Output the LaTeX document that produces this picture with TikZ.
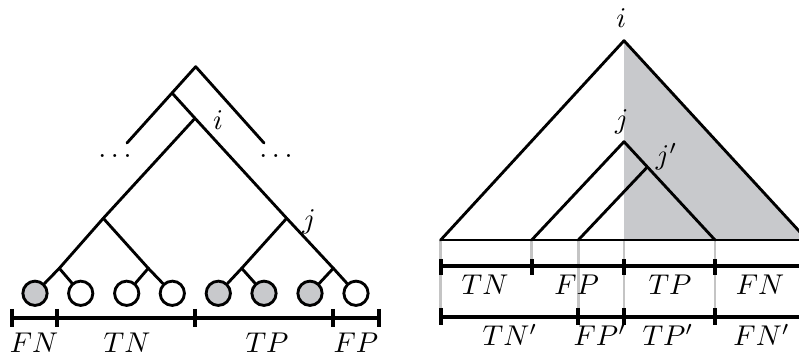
\documentclass[tikz,border=0pt]{standalone}
\usepackage{tikz}
\usepackage{xcolor}
\definecolor{regiongray}{RGB}{200,201,204}
\definecolor{guidegray}{RGB}{196,196,196}

\begin{document}
\begin{tikzpicture}[x=0.35pt, y=-0.35pt,
  tree/.style={line width=1pt, line cap=round, line join=round},
  leaf/.style={circle, draw=black, line width=1pt, inner sep=0pt, minimum size=8.5pt},
  bar/.style={line width=1.3pt},
  guide/.style={draw=guidegray, line width=1pt},
  every node/.style={font=\normalsize}]
\clip (0,0) rectangle (799,358);
% Left: tree with leaves
\coordinate (top) at (195.7,66.7);
\coordinate (a) at (172.3,93.3);
\coordinate (endL) at (127,143);
\coordinate (endR) at (264,143);
\coordinate (ni) at (195,118.3);
\coordinate (n1) at (103.3,218.3);
\coordinate (n2) at (59.3,268.3);
\coordinate (n3) at (148.3,268.3);
\coordinate (nj) at (286.7,218.3);
\coordinate (n4) at (241.7,268.3);
\coordinate (n5) at (333.3,268.3);
\foreach \x/\f [count=\k] in {35/regiongray,80.7/white,126.7/white,172.3/white,218.3/regiongray,264/regiongray,310/regiongray,356/white}
  \node[leaf, fill=\f] (leaf\k) at (\x,293.3) {};
\draw[tree] (endL) -- (top) -- (endR);
\draw[tree] (a) -- (ni) -- (nj) -- (n5) -- (leaf8);
\draw[tree] (ni) -- (n1) -- (n2) -- (leaf1);
\draw[tree] (n2) -- (leaf2);
\draw[tree] (n1) -- (n3) -- (leaf4);
\draw[tree] (n3) -- (leaf3);
\draw[tree] (nj) -- (n4) -- (leaf5);
\draw[tree] (n4) -- (leaf6);
\draw[tree] (n5) -- (leaf7);
\node (labi) at (218,120) {$i$};
\node (labj) at (309,222) {$j$};
\node[anchor=base] (dotsL) at (115,157.5) {$\ldots$};
\node[anchor=base] (dotsR) at (276,157.5) {$\ldots$};
% Left: leaf classes
\draw[bar] (12.3,318.3) -- (379,318.3);
\foreach \x in {12.3,57.3,195,333.3,379}
  \draw[bar] (\x,309) -- (\x,327);
\node (fnL) at (34,343) {$FN$};
\node (tnL) at (127,343) {$TN$};
\node (tpL) at (267,343) {$TP$};
\node (fpL) at (356,343) {$FP$};
% Right: nested subtrees
\coordinate (I) at (624,40.7);
\coordinate (IL) at (440.7,240);
\coordinate (IR) at (807.3,240);
\coordinate (IM) at (624,240);
\coordinate (J) at (624,141.7);
\coordinate (JL) at (531.7,240);
\coordinate (JR) at (715,240);
\coordinate (Jp) at (646.7,167.7);
\coordinate (JpL) at (578.3,240);
\fill[regiongray] (I) -- (IR) -- (IM) -- cycle;
\draw[guide] (440.7,240) -- (440.7,316.7);
\draw[guide] (531.7,240) -- (531.7,266);
\draw[guide] (578.3,240) -- (578.3,316.7);
\draw[guide] (624,240) -- (624,316.7);
\draw[guide] (715,240) -- (715,316.7);
\draw[tree] (IL) -- (I) -- (IR);
\draw[tree] (IL) -- (IR);
\draw[tree] (JL) -- (J) -- (JR);
\draw[tree] (JpL) -- (Jp);
\node (labI) at (621.3,18) {$i$};
\node (labJ) at (621.7,121.7) {$j$};
\node (labJp) at (666.7,156.7) {$j'$};
% Right: class bars
\draw[bar] (440.7,266) -- (799,266);
\foreach \x in {440.7,531.7,624,715}
  \draw[bar] (\x,259) -- (\x,275);
\draw[bar] (440.7,316.7) -- (799,316.7);
\foreach \x in {440.7,578.3,624,715}
  \draw[bar] (\x,308) -- (\x,325);
\node (tnA) at (485,285) {$TN$};
\node (fpA) at (576.7,285) {$FP$};
\node (tpA) at (670,285) {$TP$};
\node (fnA) at (760,285) {$FN$};
\node (tnB) at (510,335) {$TN'$};
\node (fpB) at (600,335) {$FP'$};
\node (tpB) at (668,335) {$TP'$};
\node (fnB) at (761.7,335) {$FN'$};
\end{tikzpicture}
\end{document}
